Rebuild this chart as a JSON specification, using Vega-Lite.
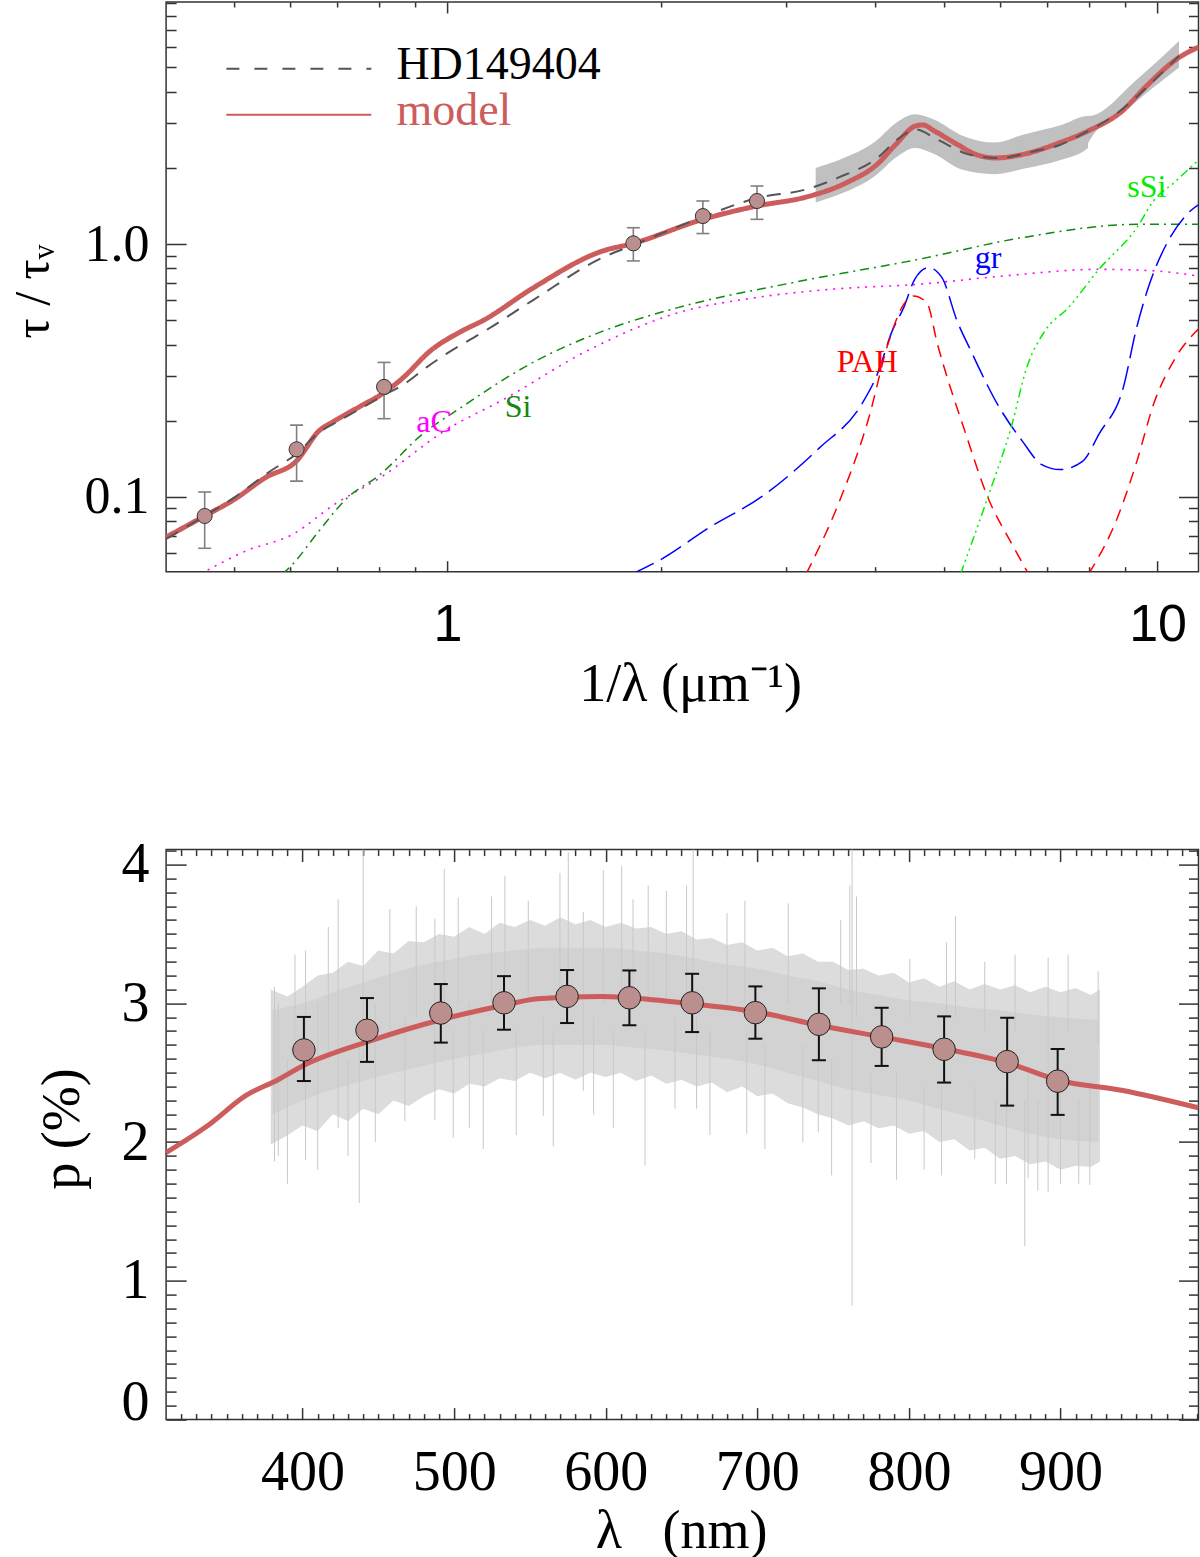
{
  "$schema": "https://vega.github.io/schema/vega-lite/v6.json",
  "padding": {"left": 7.1, "top": 0, "right": 0, "bottom": 0},
  "spacing": 277.6,
  "bounds": "flush",
  "datasets": {
    "model": [
      {"x": 0.4015, "y": 0.0692}, {"x": 0.455, "y": 0.0839}, {"x": 0.501, "y": 0.0976},
      {"x": 0.554, "y": 0.119}, {"x": 0.613, "y": 0.1386}, {"x": 0.659, "y": 0.182},
      {"x": 0.693, "y": 0.1994}, {"x": 0.756, "y": 0.229}, {"x": 0.814, "y": 0.258},
      {"x": 0.866, "y": 0.2958}, {"x": 0.945, "y": 0.377}, {"x": 1.044, "y": 0.45},
      {"x": 1.125, "y": 0.5}, {"x": 1.321, "y": 0.671}, {"x": 1.648, "y": 0.935},
      {"x": 1.827, "y": 1.006}, {"x": 2.289, "y": 1.252}, {"x": 2.728, "y": 1.414},
      {"x": 3.2, "y": 1.534}, {"x": 3.65, "y": 1.75}, {"x": 4.03, "y": 2.07},
      {"x": 4.28, "y": 2.48}, {"x": 4.56, "y": 2.93}, {"x": 4.67, "y": 2.96},
      {"x": 4.85, "y": 2.8}, {"x": 5.22, "y": 2.48}, {"x": 5.55, "y": 2.26},
      {"x": 5.91, "y": 2.19}, {"x": 6.45, "y": 2.26}, {"x": 7.29, "y": 2.52},
      {"x": 7.98, "y": 2.8}, {"x": 8.92, "y": 3.36}, {"x": 9.6, "y": 4.16},
      {"x": 10.72, "y": 5.47}, {"x": 11.5, "y": 6.06}
    ],
    "hd": [
      {"x": 0.4015, "y": 0.068}, {"x": 0.455, "y": 0.084}, {"x": 0.5, "y": 0.099},
      {"x": 0.56, "y": 0.125}, {"x": 0.613, "y": 0.148}, {"x": 0.66, "y": 0.18},
      {"x": 0.7, "y": 0.198}, {"x": 0.756, "y": 0.224}, {"x": 0.814, "y": 0.252},
      {"x": 0.87, "y": 0.28}, {"x": 0.934, "y": 0.325}, {"x": 1.0, "y": 0.37},
      {"x": 1.125, "y": 0.45}, {"x": 1.32, "y": 0.6}, {"x": 1.648, "y": 0.88},
      {"x": 1.827, "y": 0.99}, {"x": 2.0, "y": 1.1}, {"x": 2.289, "y": 1.28},
      {"x": 2.728, "y": 1.52}, {"x": 3.2, "y": 1.645}, {"x": 3.55, "y": 1.83},
      {"x": 4.03, "y": 2.19}, {"x": 4.33, "y": 2.63}, {"x": 4.56, "y": 2.84},
      {"x": 4.9, "y": 2.59}, {"x": 5.43, "y": 2.26}, {"x": 5.99, "y": 2.19},
      {"x": 6.7, "y": 2.33}, {"x": 7.3, "y": 2.47}, {"x": 7.79, "y": 2.7},
      {"x": 8.68, "y": 3.22}, {"x": 9.87, "y": 4.42}, {"x": 10.72, "y": 5.55}
    ],
    "band": [
      {"x": 3.3, "lo": 1.46, "hi": 2.0}, {"x": 3.6, "lo": 1.59, "hi": 2.18},
      {"x": 4.0, "lo": 1.86, "hi": 2.54}, {"x": 4.3, "lo": 2.22, "hi": 3.04},
      {"x": 4.55, "lo": 2.4, "hi": 3.26}, {"x": 4.85, "lo": 2.27, "hi": 3.1},
      {"x": 5.3, "lo": 1.97, "hi": 2.69}, {"x": 5.9, "lo": 1.89, "hi": 2.52},
      {"x": 6.5, "lo": 1.99, "hi": 2.72}, {"x": 7.3, "lo": 2.15, "hi": 2.95},
      {"x": 7.98, "lo": 2.4, "hi": 3.21}, {"x": 7.99, "lo": 2.52, "hi": 3.21},
      {"x": 9.35, "lo": 3.68, "hi": 4.48}, {"x": 10.72, "lo": 4.99, "hi": 6.36}
    ],
    "phot": [
      {"x": 0.455, "y": 0.0839, "lo": 0.0625, "hi": 0.1044},
      {"x": 0.613, "y": 0.154, "lo": 0.1153, "hi": 0.192},
      {"x": 0.814, "y": 0.272, "lo": 0.2036, "hi": 0.34},
      {"x": 1.827, "y": 1.006, "lo": 0.857, "hi": 1.16},
      {"x": 2.289, "y": 1.29, "lo": 1.1, "hi": 1.48},
      {"x": 2.728, "y": 1.48, "lo": 1.252, "hi": 1.696}
    ],
    "comp": [
      {"c": "aC", "part": 1, "x": 0.449, "y": 0.0495}, {"c": "aC", "part": 1, "x": 0.521, "y": 0.0611},
      {"c": "aC", "part": 1, "x": 0.605, "y": 0.0709}, {"c": "aC", "part": 1, "x": 0.693, "y": 0.0932},
      {"c": "aC", "part": 1, "x": 0.804, "y": 0.119}, {"c": "aC", "part": 1, "x": 0.99, "y": 0.182},
      {"c": "aC", "part": 1, "x": 1.21, "y": 0.246}, {"c": "aC", "part": 1, "x": 1.57, "y": 0.377},
      {"c": "aC", "part": 1, "x": 2.11, "y": 0.534}, {"c": "aC", "part": 1, "x": 2.71, "y": 0.613},
      {"c": "aC", "part": 1, "x": 3.47, "y": 0.662}, {"c": "aC", "part": 1, "x": 4.61, "y": 0.693},
      {"c": "aC", "part": 1, "x": 6.06, "y": 0.747}, {"c": "aC", "part": 1, "x": 8.26, "y": 0.794},
      {"c": "aC", "part": 1, "x": 9.95, "y": 0.782}, {"c": "aC", "part": 1, "x": 11.4, "y": 0.747},
      {"c": "Si", "part": 1, "x": 0.586, "y": 0.0495}, {"c": "Si", "part": 1, "x": 0.605, "y": 0.054},
      {"c": "Si", "part": 1, "x": 0.659, "y": 0.0731}, {"c": "Si", "part": 1, "x": 0.719, "y": 0.0977},
      {"c": "Si", "part": 1, "x": 0.804, "y": 0.1225}, {"c": "Si", "part": 1, "x": 0.922, "y": 0.177},
      {"c": "Si", "part": 1, "x": 1.044, "y": 0.225}, {"c": "Si", "part": 1, "x": 1.304, "y": 0.334},
      {"c": "Si", "part": 1, "x": 1.648, "y": 0.45}, {"c": "Si", "part": 1, "x": 2.11, "y": 0.56},
      {"c": "Si", "part": 1, "x": 3.06, "y": 0.703}, {"c": "Si", "part": 1, "x": 4.61, "y": 0.87},
      {"c": "Si", "part": 1, "x": 6.45, "y": 1.06}, {"c": "Si", "part": 1, "x": 9.35, "y": 1.196},
      {"c": "Si", "part": 1, "x": 11.5, "y": 1.196},
      {"c": "gr", "part": 1, "x": 1.82, "y": 0.0495}, {"c": "gr", "part": 1, "x": 1.997, "y": 0.0564},
      {"c": "gr", "part": 1, "x": 2.333, "y": 0.0753}, {"c": "gr", "part": 1, "x": 2.77, "y": 0.1},
      {"c": "gr", "part": 1, "x": 3.34, "y": 0.156}, {"c": "gr", "part": 1, "x": 3.83, "y": 0.232},
      {"c": "gr", "part": 1, "x": 4.03, "y": 0.305}, {"c": "gr", "part": 1, "x": 4.23, "y": 0.453},
      {"c": "gr", "part": 1, "x": 4.39, "y": 0.56}, {"c": "gr", "part": 1, "x": 4.55, "y": 0.725},
      {"c": "gr", "part": 1, "x": 4.76, "y": 0.806}, {"c": "gr", "part": 1, "x": 4.97, "y": 0.736},
      {"c": "gr", "part": 1, "x": 5.22, "y": 0.496}, {"c": "gr", "part": 1, "x": 5.43, "y": 0.39},
      {"c": "gr", "part": 1, "x": 5.99, "y": 0.225}, {"c": "gr", "part": 1, "x": 6.45, "y": 0.166},
      {"c": "gr", "part": 1, "x": 6.87, "y": 0.134}, {"c": "gr", "part": 1, "x": 7.29, "y": 0.128},
      {"c": "gr", "part": 1, "x": 7.84, "y": 0.138}, {"c": "gr", "part": 1, "x": 8.27, "y": 0.177},
      {"c": "gr", "part": 1, "x": 8.96, "y": 0.274}, {"c": "gr", "part": 1, "x": 9.32, "y": 0.453},
      {"c": "gr", "part": 1, "x": 9.72, "y": 0.682}, {"c": "gr", "part": 1, "x": 10.35, "y": 1.028},
      {"c": "gr", "part": 1, "x": 11.12, "y": 1.35}, {"c": "gr", "part": 1, "x": 11.5, "y": 1.45},
      {"c": "PAH", "part": 1, "x": 3.2, "y": 0.0495}, {"c": "PAH", "part": 1, "x": 3.55, "y": 0.0933},
      {"c": "PAH", "part": 1, "x": 3.92, "y": 0.205}, {"c": "PAH", "part": 1, "x": 4.17, "y": 0.4},
      {"c": "PAH", "part": 1, "x": 4.39, "y": 0.577}, {"c": "PAH", "part": 1, "x": 4.53, "y": 0.623},
      {"c": "PAH", "part": 1, "x": 4.73, "y": 0.586}, {"c": "PAH", "part": 1, "x": 4.9, "y": 0.4},
      {"c": "PAH", "part": 1, "x": 5.37, "y": 0.177}, {"c": "PAH", "part": 1, "x": 5.77, "y": 0.0991},
      {"c": "PAH", "part": 1, "x": 6.22, "y": 0.0658}, {"c": "PAH", "part": 1, "x": 6.58, "y": 0.0495},
      {"c": "PAH", "part": 2, "x": 8.0, "y": 0.0495}, {"c": "PAH", "part": 2, "x": 8.78, "y": 0.0826},
      {"c": "PAH", "part": 2, "x": 9.35, "y": 0.138}, {"c": "PAH", "part": 2, "x": 9.87, "y": 0.232},
      {"c": "PAH", "part": 2, "x": 10.6, "y": 0.355}, {"c": "PAH", "part": 2, "x": 11.5, "y": 0.47},
      {"c": "sSi", "part": 1, "x": 5.28, "y": 0.0495}, {"c": "sSi", "part": 1, "x": 5.77, "y": 0.1},
      {"c": "sSi", "part": 1, "x": 6.22, "y": 0.188}, {"c": "sSi", "part": 1, "x": 6.54, "y": 0.323},
      {"c": "sSi", "part": 1, "x": 6.94, "y": 0.453}, {"c": "sSi", "part": 1, "x": 7.49, "y": 0.56},
      {"c": "sSi", "part": 1, "x": 8.27, "y": 0.794}, {"c": "sSi", "part": 1, "x": 9.35, "y": 1.16},
      {"c": "sSi", "part": 1, "x": 9.87, "y": 1.48}, {"c": "sSi", "part": 1, "x": 10.6, "y": 1.77},
      {"c": "sSi", "part": 1, "x": 11.5, "y": 2.19}
    ],
    "lab": [
      {"t": "aC", "x": 0.957, "y": 0.18},
      {"t": "Si", "x": 1.257, "y": 0.207},
      {"t": "gr", "x": 5.77, "y": 0.806},
      {"t": "PAH", "x": 3.9, "y": 0.311},
      {"t": "sSi", "x": 9.66, "y": 1.535}
    ],
    "outer": [
      {"lam": 379, "lo": 1.98, "hi": 3.1}, {"lam": 390, "lo": 2.05, "hi": 3.05}, {"lam": 400, "lo": 2.12, "hi": 3.12},
      {"lam": 410, "lo": 2.08, "hi": 3.2}, {"lam": 420, "lo": 2.2, "hi": 3.22}, {"lam": 430, "lo": 2.15, "hi": 3.3},
      {"lam": 440, "lo": 2.24, "hi": 3.27}, {"lam": 450, "lo": 2.2, "hi": 3.38}, {"lam": 460, "lo": 2.3, "hi": 3.36},
      {"lam": 470, "lo": 2.26, "hi": 3.45}, {"lam": 480, "lo": 2.33, "hi": 3.44}, {"lam": 490, "lo": 2.38, "hi": 3.5},
      {"lam": 500, "lo": 2.35, "hi": 3.48}, {"lam": 510, "lo": 2.42, "hi": 3.55}, {"lam": 520, "lo": 2.4, "hi": 3.5},
      {"lam": 530, "lo": 2.46, "hi": 3.58}, {"lam": 540, "lo": 2.44, "hi": 3.55}, {"lam": 550, "lo": 2.5, "hi": 3.6},
      {"lam": 560, "lo": 2.46, "hi": 3.56}, {"lam": 570, "lo": 2.5, "hi": 3.62}, {"lam": 580, "lo": 2.45, "hi": 3.57},
      {"lam": 590, "lo": 2.5, "hi": 3.6}, {"lam": 600, "lo": 2.47, "hi": 3.55}, {"lam": 610, "lo": 2.5, "hi": 3.58},
      {"lam": 620, "lo": 2.44, "hi": 3.54}, {"lam": 630, "lo": 2.48, "hi": 3.55}, {"lam": 640, "lo": 2.42, "hi": 3.5},
      {"lam": 650, "lo": 2.45, "hi": 3.52}, {"lam": 660, "lo": 2.4, "hi": 3.46}, {"lam": 670, "lo": 2.43, "hi": 3.47},
      {"lam": 680, "lo": 2.36, "hi": 3.42}, {"lam": 690, "lo": 2.4, "hi": 3.44}, {"lam": 700, "lo": 2.33, "hi": 3.38},
      {"lam": 710, "lo": 2.35, "hi": 3.4}, {"lam": 720, "lo": 2.28, "hi": 3.34}, {"lam": 730, "lo": 2.25, "hi": 3.36},
      {"lam": 740, "lo": 2.2, "hi": 3.3}, {"lam": 750, "lo": 2.17, "hi": 3.3}, {"lam": 760, "lo": 2.12, "hi": 3.24},
      {"lam": 770, "lo": 2.15, "hi": 3.25}, {"lam": 780, "lo": 2.1, "hi": 3.2}, {"lam": 790, "lo": 2.12, "hi": 3.22},
      {"lam": 800, "lo": 2.06, "hi": 3.15}, {"lam": 810, "lo": 2.08, "hi": 3.18}, {"lam": 820, "lo": 2.0, "hi": 3.12},
      {"lam": 830, "lo": 2.02, "hi": 3.16}, {"lam": 840, "lo": 1.94, "hi": 3.1}, {"lam": 850, "lo": 1.96, "hi": 3.14},
      {"lam": 860, "lo": 1.88, "hi": 3.1}, {"lam": 870, "lo": 1.9, "hi": 3.13}, {"lam": 880, "lo": 1.84, "hi": 3.08},
      {"lam": 890, "lo": 1.86, "hi": 3.12}, {"lam": 900, "lo": 1.8, "hi": 3.08}, {"lam": 910, "lo": 1.83, "hi": 3.11},
      {"lam": 920, "lo": 1.82, "hi": 3.06}, {"lam": 926, "lo": 1.86, "hi": 3.1}
    ],
    "inner": [
      {"lam": 380, "lo": 2.2, "hi": 2.95}, {"lam": 400, "lo": 2.3, "hi": 3.0}, {"lam": 420, "lo": 2.38, "hi": 3.08},
      {"lam": 440, "lo": 2.44, "hi": 3.15}, {"lam": 460, "lo": 2.5, "hi": 3.22}, {"lam": 480, "lo": 2.55, "hi": 3.28},
      {"lam": 500, "lo": 2.6, "hi": 3.32}, {"lam": 520, "lo": 2.64, "hi": 3.36}, {"lam": 540, "lo": 2.68, "hi": 3.38},
      {"lam": 560, "lo": 2.7, "hi": 3.4}, {"lam": 580, "lo": 2.7, "hi": 3.4}, {"lam": 600, "lo": 2.7, "hi": 3.4},
      {"lam": 620, "lo": 2.68, "hi": 3.38}, {"lam": 640, "lo": 2.66, "hi": 3.36}, {"lam": 660, "lo": 2.63, "hi": 3.32},
      {"lam": 680, "lo": 2.6, "hi": 3.28}, {"lam": 700, "lo": 2.56, "hi": 3.25}, {"lam": 720, "lo": 2.5, "hi": 3.2},
      {"lam": 740, "lo": 2.44, "hi": 3.16}, {"lam": 760, "lo": 2.38, "hi": 3.1}, {"lam": 780, "lo": 2.34, "hi": 3.06},
      {"lam": 800, "lo": 2.3, "hi": 3.02}, {"lam": 820, "lo": 2.24, "hi": 3.0}, {"lam": 840, "lo": 2.18, "hi": 2.97},
      {"lam": 860, "lo": 2.12, "hi": 2.95}, {"lam": 880, "lo": 2.06, "hi": 2.92}, {"lam": 900, "lo": 2.02, "hi": 2.9},
      {"lam": 925, "lo": 2.0, "hi": 2.88}
    ],
    "spk": [
      {"lam": 381.5, "lo": 1.86, "hi": 3.12}, {"lam": 384, "lo": 1.9, "hi": 3.0}, {"lam": 390, "lo": 1.7, "hi": 2.6}, {"lam": 395, "lo": 2.6, "hi": 3.35},
      {"lam": 402, "lo": 1.87, "hi": 3.38}, {"lam": 410, "lo": 1.8, "hi": 3.0}, {"lam": 417, "lo": 2.6, "hi": 3.55},
      {"lam": 423.5, "lo": 2.1, "hi": 3.75}, {"lam": 430, "lo": 1.9, "hi": 2.6}, {"lam": 437.4, "lo": 1.56, "hi": 2.7},
      {"lam": 440, "lo": 2.6, "hi": 4.15}, {"lam": 448, "lo": 2.0, "hi": 3.0}, {"lam": 457.6, "lo": 2.8, "hi": 3.68},
      {"lam": 467.5, "lo": 2.15, "hi": 2.9}, {"lam": 475, "lo": 2.9, "hi": 3.7}, {"lam": 487.3, "lo": 2.16, "hi": 3.61},
      {"lam": 493.5, "lo": 2.9, "hi": 3.97}, {"lam": 499.4, "lo": 2.03, "hi": 2.8}, {"lam": 502.7, "lo": 3.0, "hi": 3.76},
      {"lam": 510, "lo": 2.1, "hi": 3.0}, {"lam": 519.2, "lo": 1.95, "hi": 2.8}, {"lam": 524.7, "lo": 3.0, "hi": 3.77},
      {"lam": 533.5, "lo": 3.0, "hi": 3.92}, {"lam": 541, "lo": 2.05, "hi": 2.8}, {"lam": 548.9, "lo": 3.0, "hi": 3.74},
      {"lam": 558.8, "lo": 2.19, "hi": 2.9}, {"lam": 565.4, "lo": 1.97, "hi": 2.8}, {"lam": 569.8, "lo": 3.0, "hi": 3.94},
      {"lam": 575.3, "lo": 3.0, "hi": 4.09}, {"lam": 585.2, "lo": 2.37, "hi": 3.66}, {"lam": 592, "lo": 2.2, "hi": 2.9},
      {"lam": 598.4, "lo": 3.0, "hi": 3.96}, {"lam": 605, "lo": 2.1, "hi": 2.8}, {"lam": 610.5, "lo": 3.0, "hi": 3.99},
      {"lam": 618, "lo": 3.0, "hi": 3.75}, {"lam": 625.9, "lo": 1.83, "hi": 2.8}, {"lam": 628, "lo": 3.0, "hi": 3.85},
      {"lam": 640, "lo": 3.0, "hi": 3.81}, {"lam": 645.7, "lo": 2.24, "hi": 2.9}, {"lam": 653.3, "lo": 3.0, "hi": 3.85},
      {"lam": 657.7, "lo": 3.0, "hi": 4.15}, {"lam": 659.9, "lo": 2.24, "hi": 2.9}, {"lam": 668.7, "lo": 2.05, "hi": 2.8},
      {"lam": 680, "lo": 3.0, "hi": 3.65}, {"lam": 691.8, "lo": 3.0, "hi": 3.74}, {"lam": 693, "lo": 2.06, "hi": 2.8},
      {"lam": 705, "lo": 1.95, "hi": 2.7}, {"lam": 720.4, "lo": 3.0, "hi": 3.72}, {"lam": 730, "lo": 2.0, "hi": 2.7},
      {"lam": 740.2, "lo": 2.07, "hi": 2.8}, {"lam": 749, "lo": 1.76, "hi": 2.6}, {"lam": 755, "lo": 3.0, "hi": 3.6},
      {"lam": 761, "lo": 3.0, "hi": 3.85}, {"lam": 762.5, "lo": 0.82, "hi": 4.15}, {"lam": 765.4, "lo": 2.9, "hi": 3.77},
      {"lam": 775, "lo": 1.85, "hi": 2.5}, {"lam": 791.8, "lo": 1.73, "hi": 2.5}, {"lam": 800.6, "lo": 2.9, "hi": 3.32},
      {"lam": 810, "lo": 1.8, "hi": 2.4}, {"lam": 821.5, "lo": 1.76, "hi": 2.4}, {"lam": 824.8, "lo": 2.9, "hi": 3.44},
      {"lam": 830.7, "lo": 2.9, "hi": 3.63}, {"lam": 843.4, "lo": 1.88, "hi": 2.4}, {"lam": 850, "lo": 2.8, "hi": 3.3},
      {"lam": 857, "lo": 1.7, "hi": 2.3}, {"lam": 864.3, "lo": 1.7, "hi": 2.4}, {"lam": 870, "lo": 2.8, "hi": 3.35},
      {"lam": 876.4, "lo": 1.25, "hi": 2.3}, {"lam": 878.6, "lo": 1.74, "hi": 2.5}, {"lam": 885, "lo": 1.65, "hi": 2.3},
      {"lam": 891.8, "lo": 1.64, "hi": 3.33}, {"lam": 900, "lo": 1.7, "hi": 2.4}, {"lam": 905, "lo": 2.8, "hi": 3.35},
      {"lam": 912, "lo": 1.7, "hi": 2.3}, {"lam": 919.3, "lo": 1.69, "hi": 2.4}, {"lam": 924.8, "lo": 2.7, "hi": 3.23}
    ],
    "pmod": [
      {"lam": 310, "p": 1.925}, {"lam": 337.8, "p": 2.122}, {"lam": 363, "p": 2.338}, {"lam": 383.2, "p": 2.446},
      {"lam": 400.9, "p": 2.554}, {"lam": 442.5, "p": 2.722}, {"lam": 491.2, "p": 2.882}, {"lam": 532.9, "p": 2.986},
      {"lam": 554.9, "p": 3.033}, {"lam": 597, "p": 3.05}, {"lam": 615.6, "p": 3.04}, {"lam": 657, "p": 2.996},
      {"lam": 698.7, "p": 2.94}, {"lam": 740.6, "p": 2.842}, {"lam": 782, "p": 2.758}, {"lam": 823, "p": 2.674},
      {"lam": 864.8, "p": 2.572}, {"lam": 898.5, "p": 2.446}, {"lam": 940.2, "p": 2.374}, {"lam": 991, "p": 2.247}
    ],
    "pobs": [
      {"lam": 400.9, "p": 2.664, "lo": 2.44, "hi": 2.902},
      {"lam": 442.5, "p": 2.806, "lo": 2.578, "hi": 3.038},
      {"lam": 491.2, "p": 2.93, "lo": 2.717, "hi": 3.139},
      {"lam": 532.9, "p": 3.004, "lo": 2.81, "hi": 3.196},
      {"lam": 574.5, "p": 3.05, "lo": 2.858, "hi": 3.24},
      {"lam": 615.6, "p": 3.04, "lo": 2.842, "hi": 3.237},
      {"lam": 657, "p": 3.004, "lo": 2.793, "hi": 3.213},
      {"lam": 698.7, "p": 2.933, "lo": 2.745, "hi": 3.122},
      {"lam": 740.6, "p": 2.849, "lo": 2.59, "hi": 3.108},
      {"lam": 782, "p": 2.758, "lo": 2.549, "hi": 2.968},
      {"lam": 823.2, "p": 2.669, "lo": 2.429, "hi": 2.906},
      {"lam": 864.8, "p": 2.58, "lo": 2.263, "hi": 2.896},
      {"lam": 898.1, "p": 2.439, "lo": 2.196, "hi": 2.671}
    ]
  },
  "vconcat": [
    {
      "width": 1032.4,
      "height": 569.7,
      "resolve": {"axis": {"x": "independent", "y": "independent"}},
      "layer": [
        {
          "data": {"name": "band"},
          "mark": {"type": "area", "color": "#c0c0c0", "clip": true, "interpolate": "monotone"},
          "encoding": {
            "x": {"field": "x", "type": "quantitative", "scale": {"type": "log", "domain": [0.4015, 11.42], "nice": false},
              "axis": {"orient": "bottom", "values": [1, 10], "format": "~g", "ticks": false, "labelFont": "Liberation Sans", "labelFontSize": 52, "labelBaseline": "alphabetic", "labelPadding": 69, "labelFlush": false, "labelOverlap": false,
                "title": "1/λ (μm⁻¹)", "titleFontSize": 54, "titleX": 524, "titleY": 129, "titleBaseline": "alphabetic", "titleAlign": "center"}},
            "y": {"field": "lo", "type": "quantitative", "scale": {"type": "log", "domain": [0.0505, 9.07], "nice": false},
              "axis": {"orient": "left", "values": [0.1, 1], "format": ".1f", "ticks": false, "labelFontSize": 52, "labelPadding": 17, "labelAlign": "right", "labelBaseline": "middle", "labelOverlap": false,
                "title": "τ / τᵥ", "titleFontSize": 50, "titleAngle": 270, "titleX": -118, "titleY": 289, "titleBaseline": "alphabetic", "titleAlign": "center"}},
            "y2": {"field": "hi"}
          }
        },
        {
          "data": {"name": "model"},
          "mark": {"type": "line", "strokeWidth": 5, "clip": true, "interpolate": "monotone"},
          "encoding": {
            "x": {"field": "x", "type": "quantitative", "scale": {"type": "log", "domain": [0.4015, 11.42], "nice": false},
              "axis": {"orient": "bottom", "values": [1, 10], "tickSize": -11, "labels": false, "title": null}},
            "y": {"field": "y", "type": "quantitative", "scale": {"type": "log", "domain": [0.0505, 9.07], "nice": false},
              "axis": {"orient": "left", "values": [0.1, 1], "tickSize": -20, "labels": false, "title": null}},
            "color": {"datum": "model", "type": "nominal", "scale": {"domain": ["HD149404", "model"], "range": ["#555555", "#cd5c5c"]},
              "legend": {"title": null, "orient": "none", "legendX": 59.3, "legendY": 47.7, "symbolType": "stroke", "symbolSize": 21025, "symbolStrokeWidth": 2, "clipHeight": 38, "labelOffset": 24, "labelFontSize": 46, "labelFont": "Liberation Serif", "labelLimit": 500, "rowPadding": 0, "padding": 0,
                "encode": {
                  "labels": {"update": {"fill": {"signal": "datum.label === 'model' ? '#cd5c5c' : '#000000'"}, "dy": {"signal": "-4 - datum.index * 8"}}},
                  "symbols": {"update": {"stroke": {"signal": "datum.value === 'model' ? '#cd5c5c' : '#111111'"}, "y": {"signal": "19 - datum.index * 8"}}}}}},
            "strokeDash": {"datum": "model", "type": "nominal", "scale": {"domain": ["HD149404", "model"], "range": [[13, 15], [1, 0]]},
              "legend": {"title": null, "orient": "none", "legendX": 59.3, "legendY": 47.7, "symbolType": "stroke", "symbolSize": 21025, "symbolStrokeWidth": 2, "clipHeight": 38, "labelOffset": 24, "labelFontSize": 46, "labelFont": "Liberation Serif", "labelLimit": 500, "rowPadding": 0, "padding": 0}}
          }
        },
        {
          "data": {"name": "hd"},
          "mark": {"type": "line", "strokeWidth": 2, "clip": true, "interpolate": "monotone", "strokeDash": [14, 10]},
          "encoding": {
            "x": {"field": "x", "type": "quantitative", "scale": {"type": "log", "domain": [0.4015, 11.42], "nice": false},
              "axis": {"orient": "bottom", "values": [0.5, 0.6, 0.7, 0.8, 0.9, 2, 3, 4, 5, 6, 7, 8, 9], "tickSize": -5, "labels": false, "title": null}},
            "y": {"field": "y", "type": "quantitative", "scale": {"type": "log", "domain": [0.0505, 9.07], "nice": false},
              "axis": {"orient": "left", "values": [0.06, 0.07, 0.08, 0.09, 0.2, 0.3, 0.4, 0.5, 0.6, 0.7, 0.8, 0.9, 2, 3, 4, 5, 6, 7, 8, 9], "tickSize": -10, "labels": false, "title": null}},
            "color": {"datum": "HD149404", "type": "nominal"}
          }
        },
        {
          "data": {"name": "comp"},
          "transform": [{"filter": "datum.c === 'aC'"}],
          "mark": {"type": "line", "color": "#ff00ff", "strokeWidth": 1.6, "strokeDash": [2, 6], "clip": true, "interpolate": "monotone"},
          "encoding": {
            "x": {"field": "x", "type": "quantitative", "scale": {"type": "log", "domain": [0.4015, 11.42], "nice": false},
              "axis": {"orient": "top", "values": [1, 10], "tickSize": -11, "labels": false, "title": null}},
            "y": {"field": "y", "type": "quantitative", "scale": {"type": "log", "domain": [0.0505, 9.07], "nice": false},
              "axis": {"orient": "right", "values": [0.1, 1], "tickSize": -20, "labels": false, "title": null}}
          }
        },
        {
          "data": {"name": "comp"},
          "transform": [{"filter": "datum.c === 'Si'"}],
          "mark": {"type": "line", "color": "#108a10", "strokeWidth": 1.5, "strokeDash": [9, 5, 2, 5], "clip": true, "interpolate": "monotone"},
          "encoding": {
            "x": {"field": "x", "type": "quantitative", "scale": {"type": "log", "domain": [0.4015, 11.42], "nice": false},
              "axis": {"orient": "top", "values": [0.5, 0.6, 0.7, 0.8, 0.9, 2, 3, 4, 5, 6, 7, 8, 9], "tickSize": -5, "labels": false, "title": null}},
            "y": {"field": "y", "type": "quantitative", "scale": {"type": "log", "domain": [0.0505, 9.07], "nice": false},
              "axis": {"orient": "right", "values": [0.06, 0.07, 0.08, 0.09, 0.2, 0.3, 0.4, 0.5, 0.6, 0.7, 0.8, 0.9, 2, 3, 4, 5, 6, 7, 8, 9], "tickSize": -10, "labels": false, "title": null}}
          }
        },
        {
          "data": {"name": "comp"},
          "transform": [{"filter": "datum.c === 'gr'"}],
          "mark": {"type": "line", "color": "#0000ff", "strokeWidth": 1.5, "strokeDash": [24, 8], "clip": true, "interpolate": "monotone"},
          "encoding": {
            "x": {"field": "x", "type": "quantitative", "axis": null},
            "y": {"field": "y", "type": "quantitative", "axis": null}
          }
        },
        {
          "data": {"name": "comp"},
          "transform": [{"filter": "datum.c === 'PAH'"}],
          "mark": {"type": "line", "color": "#ff0000", "strokeWidth": 1.5, "strokeDash": [12, 8], "clip": true, "interpolate": "monotone"},
          "encoding": {
            "x": {"field": "x", "type": "quantitative", "axis": null},
            "y": {"field": "y", "type": "quantitative", "axis": null},
            "detail": {"field": "part", "type": "nominal"}
          }
        },
        {
          "data": {"name": "comp"},
          "transform": [{"filter": "datum.c === 'sSi'"}],
          "mark": {"type": "line", "color": "#00ee00", "strokeWidth": 1.5, "strokeDash": [9, 4, 2, 4, 2, 4, 2, 4], "clip": true, "interpolate": "monotone"},
          "encoding": {
            "x": {"field": "x", "type": "quantitative", "axis": null},
            "y": {"field": "y", "type": "quantitative", "axis": null}
          }
        },
        {
          "data": {"name": "phot"},
          "mark": {"type": "rule", "color": "#808080", "strokeWidth": 1.6},
          "encoding": {
            "x": {"field": "x", "type": "quantitative", "axis": null},
            "y": {"field": "lo", "type": "quantitative", "axis": null},
            "y2": {"field": "hi"}
          }
        },
        {
          "data": {"name": "phot"},
          "transform": [{"fold": ["lo", "hi"], "as": ["k", "v"]}],
          "mark": {"type": "tick", "orient": "horizontal", "color": "#808080", "size": 13, "thickness": 1.6, "opacity": 1},
          "encoding": {
            "x": {"field": "x", "type": "quantitative", "axis": null},
            "y": {"field": "v", "type": "quantitative", "axis": null}
          }
        },
        {
          "data": {"name": "phot"},
          "mark": {"type": "point", "shape": "circle", "filled": true, "fill": "#bc8f8f", "stroke": "#333333", "strokeWidth": 1, "size": 227, "opacity": 1},
          "encoding": {
            "x": {"field": "x", "type": "quantitative", "axis": null},
            "y": {"field": "y", "type": "quantitative", "axis": null}
          }
        },
        {
          "data": {"name": "lab"},
          "mark": {"type": "text", "font": "Liberation Serif", "fontSize": 32, "align": "center", "baseline": "alphabetic"},
          "encoding": {
            "x": {"field": "x", "type": "quantitative", "axis": null},
            "y": {"field": "y", "type": "quantitative", "axis": null},
            "text": {"field": "t"},
            "fill": {"field": "t", "type": "nominal", "scale": {"domain": ["aC", "Si", "gr", "PAH", "sSi"], "range": ["#ff00ff", "#108a10", "#0000ff", "#ff0000", "#00ee00"]}, "legend": null}
          }
        }
      ]
    },
    {
      "width": 1032.4,
      "height": 570,
      "resolve": {"axis": {"x": "independent", "y": "independent"}},
      "layer": [
        {
          "data": {"name": "outer"},
          "mark": {"type": "area", "color": "#dcdcdc", "clip": true},
          "encoding": {
            "x": {"field": "lam", "type": "quantitative", "scale": {"domain": [310, 991], "nice": false, "zero": false},
              "axis": {"orient": "bottom", "values": [400, 500, 600, 700, 800, 900], "format": "d", "ticks": false, "labelFontSize": 56, "labelBaseline": "alphabetic", "labelPadding": 70, "labelFlush": false, "labelOverlap": false,
                "title": "λ\u00a0\u00a0\u00a0(nm)", "titleFontSize": 54, "titleX": 515, "titleY": 128, "titleBaseline": "alphabetic", "titleAlign": "center"}},
            "y": {"field": "lo", "type": "quantitative", "scale": {"domain": [0, 4.108], "nice": false, "zero": false},
              "axis": {"orient": "left", "values": [0, 1, 2, 3, 4], "format": "d", "ticks": false, "labelFontSize": 56, "labelPadding": 17, "labelAlign": "right",
                "labelBaseline": {"condition": {"test": "datum.value === 0", "value": "alphabetic"}, "value": "middle"}, "labelFlush": false, "labelOverlap": false,
                "title": "p (%)", "titleFontSize": 54, "titleAngle": 270, "titleX": -88, "titleY": 279, "titleBaseline": "alphabetic", "titleAlign": "center"}},
            "y2": {"field": "hi"}
          }
        },
        {
          "data": {"name": "inner"},
          "mark": {"type": "area", "color": "#d2d2d2", "clip": true, "interpolate": "monotone"},
          "encoding": {
            "x": {"field": "lam", "type": "quantitative", "axis": null},
            "y": {"field": "lo", "type": "quantitative", "axis": null},
            "y2": {"field": "hi"}
          }
        },
        {
          "data": {"name": "spk"},
          "mark": {"type": "rule", "color": "#c8c8c8", "strokeWidth": 1, "clip": true},
          "encoding": {
            "x": {"field": "lam", "type": "quantitative", "scale": {"domain": [310, 991], "nice": false, "zero": false},
              "axis": {"orient": "bottom", "values": [400, 500, 600, 700, 800, 900], "tickSize": -12, "labels": false, "title": null}},
            "y": {"field": "lo", "type": "quantitative", "scale": {"domain": [0, 4.108], "nice": false, "zero": false},
              "axis": {"orient": "left", "values": [0, 1, 2, 3, 4], "tickSize": -20, "labels": false, "title": null}},
            "y2": {"field": "hi"}
          }
        },
        {
          "data": {"name": "pmod"},
          "mark": {"type": "line", "color": "#cd5c5c", "strokeWidth": 5, "clip": true, "interpolate": "monotone"},
          "encoding": {
            "x": {"field": "lam", "type": "quantitative", "scale": {"domain": [310, 991], "nice": false, "zero": false},
              "axis": {"orient": "bottom", "values": [320, 330, 340, 350, 360, 370, 380, 390, 410, 420, 430, 440, 450, 460, 470, 480, 490, 510, 520, 530, 540, 550, 560, 570, 580, 590, 610, 620, 630, 640, 650, 660, 670, 680, 690, 710, 720, 730, 740, 750, 760, 770, 780, 790, 810, 820, 830, 840, 850, 860, 870, 880, 890, 910, 920, 930, 940, 950, 960, 970, 980, 990], "tickSize": -6, "labels": false, "title": null}},
            "y": {"field": "p", "type": "quantitative", "scale": {"domain": [0, 4.108], "nice": false, "zero": false},
              "axis": {"orient": "left", "values": [0.1, 0.2, 0.3, 0.4, 0.5, 0.6, 0.7, 0.8, 0.9, 1.1, 1.2, 1.3, 1.4, 1.5, 1.6, 1.7, 1.8, 1.9, 2.1, 2.2, 2.3, 2.4, 2.5, 2.6, 2.7, 2.8, 2.9, 3.1, 3.2, 3.3, 3.4, 3.5, 3.6, 3.7, 3.8, 3.9, 4.1], "tickSize": -10, "labels": false, "title": null}}
          }
        },
        {
          "data": {"name": "pobs"},
          "mark": {"type": "rule", "color": "#111111", "strokeWidth": 2},
          "encoding": {
            "x": {"field": "lam", "type": "quantitative", "scale": {"domain": [310, 991], "nice": false, "zero": false},
              "axis": {"orient": "top", "values": [400, 500, 600, 700, 800, 900], "tickSize": -12, "labels": false, "title": null}},
            "y": {"field": "lo", "type": "quantitative", "scale": {"domain": [0, 4.108], "nice": false, "zero": false},
              "axis": {"orient": "right", "values": [0, 1, 2, 3, 4], "tickSize": -20, "labels": false, "title": null}},
            "y2": {"field": "hi"}
          }
        },
        {
          "data": {"name": "pobs"},
          "transform": [{"fold": ["lo", "hi"], "as": ["k", "v"]}],
          "mark": {"type": "tick", "orient": "horizontal", "color": "#111111", "size": 14, "thickness": 2, "opacity": 1},
          "encoding": {
            "x": {"field": "lam", "type": "quantitative", "scale": {"domain": [310, 991], "nice": false, "zero": false},
              "axis": {"orient": "top", "values": [320, 330, 340, 350, 360, 370, 380, 390, 410, 420, 430, 440, 450, 460, 470, 480, 490, 510, 520, 530, 540, 550, 560, 570, 580, 590, 610, 620, 630, 640, 650, 660, 670, 680, 690, 710, 720, 730, 740, 750, 760, 770, 780, 790, 810, 820, 830, 840, 850, 860, 870, 880, 890, 910, 920, 930, 940, 950, 960, 970, 980, 990], "tickSize": -6, "labels": false, "title": null}},
            "y": {"field": "v", "type": "quantitative", "scale": {"domain": [0, 4.108], "nice": false, "zero": false},
              "axis": {"orient": "right", "values": [0.1, 0.2, 0.3, 0.4, 0.5, 0.6, 0.7, 0.8, 0.9, 1.1, 1.2, 1.3, 1.4, 1.5, 1.6, 1.7, 1.8, 1.9, 2.1, 2.2, 2.3, 2.4, 2.5, 2.6, 2.7, 2.8, 2.9, 3.1, 3.2, 3.3, 3.4, 3.5, 3.6, 3.7, 3.8, 3.9, 4.1], "tickSize": -10, "labels": false, "title": null}}
          }
        },
        {
          "data": {"name": "pobs"},
          "mark": {"type": "point", "shape": "circle", "filled": true, "fill": "#bc8f8f", "stroke": "#222222", "strokeWidth": 1, "size": 507, "opacity": 1},
          "encoding": {
            "x": {"field": "lam", "type": "quantitative", "axis": null},
            "y": {"field": "p", "type": "quantitative", "axis": null}
          }
        }
      ]
    }
  ],
  "config": {
    "font": "Liberation Serif",
    "view": {"stroke": "#333333", "strokeWidth": 1.5},
    "axis": {"grid": false, "domain": false, "tickColor": "#333333", "tickWidth": 1.5, "labelFont": "Liberation Serif", "titleFont": "Liberation Serif", "labelColor": "#000000", "titleColor": "#000000", "titleFontWeight": "normal"}
  }
}
